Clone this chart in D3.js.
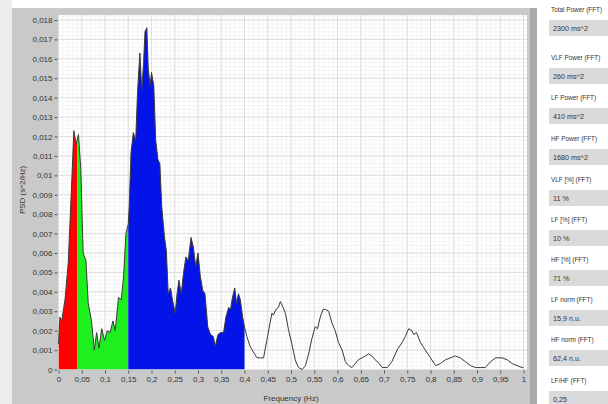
<!DOCTYPE html>
<html lang="en">
<head>
    <meta charset="UTF-8">
    <script src="https://cdn.jsdelivr.net/npm/d3@7"></script>
    <title>HRV FFT Spectrum</title>
    <style>
        body {
            margin: 0;
            background: #ffffff;
        }

        svg {
            display: block;
            font-family: "Liberation Sans", Arial, sans-serif;
        }

        .tick text {
            font-size: 8px;
            fill: #333;
        }

        .tick line {
            stroke: #555;
        }
    </style>
</head>
<body>
    <svg id="chart" width="608" height="404"></svg>

    <script>
        // spectrum (Hz, s^2/Hz)
        const freq = [
            0.000, 0.003, 0.007, 0.014, 0.021, 0.028, 0.033, 0.038, 0.043, 0.048,
            0.053, 0.059, 0.064, 0.071, 0.077, 0.082, 0.087, 0.093, 0.099, 0.105,
            0.111, 0.117, 0.122, 0.129, 0.135, 0.140, 0.145, 0.150, 0.152, 0.156,
            0.161, 0.166, 0.170, 0.175, 0.179, 0.183, 0.186, 0.190, 0.193, 0.197,
            0.200, 0.205, 0.209, 0.214, 0.218, 0.222, 0.228, 0.232, 0.236, 0.241,
            0.245, 0.251, 0.255, 0.259, 0.264, 0.269, 0.274, 0.279, 0.285, 0.290,
            0.295, 0.300, 0.305, 0.310, 0.315, 0.321, 0.327, 0.333, 0.337, 0.343,
            0.348, 0.355, 0.360, 0.366, 0.370, 0.374, 0.379, 0.383, 0.387, 0.391,
            0.396, 0.400, 0.405, 0.412, 0.419, 0.427, 0.434, 0.441, 0.448, 0.455,
            0.459, 0.462, 0.468, 0.473, 0.477, 0.483, 0.488, 0.495, 0.502, 0.509,
            0.516, 0.524, 0.531, 0.538, 0.545, 0.552, 0.557, 0.563, 0.569, 0.574,
            0.581, 0.588, 0.595, 0.602, 0.610, 0.617, 0.624, 0.631, 0.638, 0.645,
            0.653, 0.660, 0.667, 0.674, 0.681, 0.690, 0.696, 0.707, 0.717, 0.728,
            0.739, 0.746, 0.753, 0.760, 0.764, 0.770, 0.778, 0.789, 0.800, 0.811,
            0.821, 0.832, 0.843, 0.853, 0.864, 0.875, 0.886, 0.897, 0.907, 0.918,
            0.929, 0.940, 0.947, 0.954, 0.965, 0.976, 0.986, 0.997, 1.000
        ];
        const psd = [
            0.0013, 0.0027, 0.0025, 0.0036, 0.0055, 0.0094, 0.0123, 0.0116, 0.0121, 0.0103,
            0.0060, 0.0056, 0.0034, 0.0025, 0.0010, 0.0019, 0.0011, 0.0021, 0.0015, 0.0020,
            0.0019, 0.0025, 0.0020, 0.0037, 0.0036, 0.0048, 0.0070, 0.0075, 0.0084, 0.0112,
            0.0122, 0.0118, 0.0143, 0.0163, 0.0144, 0.0158, 0.0174, 0.0176, 0.0155, 0.0146,
            0.0153, 0.0146, 0.0118, 0.0108, 0.0106, 0.0084, 0.0068, 0.0061, 0.0039, 0.0042,
            0.0036, 0.0029, 0.0039, 0.0046, 0.0039, 0.0050, 0.0058, 0.0056, 0.0068, 0.0063,
            0.0053, 0.0060, 0.0048, 0.0041, 0.0039, 0.0022, 0.0018, 0.0017, 0.0012, 0.0018,
            0.0019, 0.0019, 0.0027, 0.0032, 0.0031, 0.0037, 0.0042, 0.0034, 0.0039, 0.0036,
            0.0027, 0.0022, 0.0017, 0.0012, 0.0009, 0.0006, 0.0006, 0.0006, 0.0015, 0.0024,
            0.0029, 0.0028, 0.0031, 0.0032, 0.0035, 0.0032, 0.0029, 0.0020, 0.0013, 0.0005,
            0.0001, 0.0000, 0.0002, 0.0008, 0.0016, 0.0022, 0.0021, 0.0027, 0.0031, 0.0031,
            0.0030, 0.0024, 0.0020, 0.0014, 0.0010, 0.0004, 0.0002, 0.0001, 0.0003, 0.0005,
            0.0006, 0.0007, 0.0008, 0.0007, 0.0005, 0.0003, 0.0001, 0.0001, 0.0004, 0.0010,
            0.0014, 0.0017, 0.0021, 0.0020, 0.0018, 0.0019, 0.0014, 0.0010, 0.0006, 0.0002,
            0.0003, 0.0005, 0.0006, 0.0007, 0.0006, 0.0004, 0.0002, 0.0001, 0.0001, 0.0001,
            0.0004, 0.0006, 0.0006, 0.0006, 0.0005, 0.0003, 0.0002, 0.0001, 0.0001
        ];

        // VLF / LF / HF band limits
        const bandEdges = [0, 0.04, 0.15, 0.4];
        const bandColors = ["#ff0000", "#1ef01e", "#0414e8"];

        const xTickValues = [0, 0.05, 0.1, 0.15, 0.2, 0.25, 0.3, 0.35, 0.4, 0.45, 0.5,
            0.55, 0.6, 0.65, 0.7, 0.75, 0.8, 0.85, 0.9, 0.95, 1];
        const yTickValues = [0, 0.001, 0.002, 0.003, 0.004, 0.005, 0.006, 0.007, 0.008, 0.009,
            0.01, 0.011, 0.012, 0.013, 0.014, 0.015, 0.016, 0.017, 0.018];

        const statLabels = ["Total Power (FFT)", "VLF Power (FFT)", "LF Power (FFT)", "HF Power (FFT)",
            "VLF [%] (FFT)", "LF [%] (FFT)", "HF [%] (FFT)", "LF norm (FFT)", "HF norm (FFT)", "LF/HF (FFT)"];
        const statValues = ["2300 ms^2", "260 ms^2", "410 ms^2", "1680 ms^2",
            "11 %", "10 %", "71 %", "15,9 n.u.", "62,4 n.u.", "0,25"];
        const statLabelY = [9, 57, 97, 138, 179, 219, 259, 299, 339, 380];

        const svg = d3.select("#chart");

        // frame / panel
        svg.append("rect").attr("width", 608).attr("height", 404).attr("fill", "#ffffff");
        svg.append("rect").attr("x", 0).attr("y", 0).attr("width", 12).attr("height", 404).attr("fill", "#ececec");
        svg.append("rect").attr("x", 12).attr("y", 8).attr("width", 525).attr("height", 396).attr("fill", "#c9c9c9");
        svg.append("rect").attr("x", 530).attr("y", 8).attr("width", 7).attr("height", 396).attr("fill", "#a9a9a9");

        const plot = { left: 58.5, right: 527, top: 15, bottom: 369.5 };
        svg.append("rect")
            .attr("x", plot.left).attr("y", plot.top)
            .attr("width", plot.right - plot.left).attr("height", plot.bottom - plot.top)
            .attr("fill", "#ffffff");

        const x = d3.scaleLinear().domain([0, 1]).range([58.5, 523.5]);
        const y = d3.scaleLinear().domain([0, 0.018]).range([369.5, 20]);

        // grid
        const grid = svg.append("g");
        grid.selectAll(".xminor")
            .data(d3.range(0, 1.001, 0.01))
            .enter().append("line")
            .attr("x1", d => x(d)).attr("x2", d => x(d))
            .attr("y1", plot.top).attr("y2", plot.bottom)
            .attr("stroke", "#f4f4f4").attr("stroke-width", 1);
        grid.selectAll(".yminor")
            .data(d3.range(0, 0.0184, 0.0002))
            .enter().append("line")
            .attr("x1", plot.left).attr("x2", plot.right)
            .attr("y1", d => y(d)).attr("y2", d => y(d))
            .attr("stroke", "#f4f4f4").attr("stroke-width", 1);
        grid.selectAll(".xmajor")
            .data(xTickValues)
            .enter().append("line")
            .attr("x1", d => x(d)).attr("x2", d => x(d))
            .attr("y1", plot.top).attr("y2", plot.bottom)
            .attr("stroke", "#dedede").attr("stroke-width", 1);
        grid.selectAll(".ymajor")
            .data(yTickValues)
            .enter().append("line")
            .attr("x1", plot.left).attr("x2", plot.right)
            .attr("y1", d => y(d)).attr("y2", d => y(d))
            .attr("stroke", "#dedede").attr("stroke-width", 1);

        const points = freq.map((f, i) => [f, psd[i]]);

        const area = d3.area()
            .x(d => x(d[0]))
            .y0(y(0))
            .y1(d => y(d[1]));

        const line = d3.line()
            .x(d => x(d[0]))
            .y(d => y(d[1]));

        // band fills, each clipped to its frequency range
        const defs = svg.append("defs");
        bandColors.forEach((color, i) => {
            defs.append("clipPath").attr("id", "band" + i)
                .append("rect")
                .attr("x", x(bandEdges[i])).attr("y", plot.top)
                .attr("width", x(bandEdges[i + 1]) - x(bandEdges[i]))
                .attr("height", plot.bottom - plot.top);

            svg.append("path")
                .datum(points)
                .attr("clip-path", `url(#band${i})`)
                .attr("d", area)
                .attr("fill", color);
        });

        svg.append("path")
            .datum(points)
            .attr("d", line)
            .attr("fill", "none")
            .attr("stroke", "#3a3a3a")
            .attr("stroke-width", 1);

        // axes
        const fmt = v => v === 0 ? "0" : String(+v.toFixed(3)).replace(".", ",");

        svg.append("g")
            .attr("transform", `translate(${plot.left - 1},0)`)
            .call(d3.axisLeft(y).tickValues(yTickValues).tickFormat(fmt).tickSize(3).tickPadding(2))
            .call(g => g.select(".domain").remove());

        svg.append("g")
            .attr("transform", `translate(0,${plot.bottom + 1})`)
            .call(d3.axisBottom(x).tickValues(xTickValues).tickFormat(fmt).tickSize(3).tickPadding(3))
            .call(g => g.select(".domain").remove());

        svg.append("text")
            .attr("transform", "translate(25,190) rotate(-90)")
            .attr("text-anchor", "middle")
            .attr("font-size", 8)
            .attr("fill", "#333")
            .text("PSD (s^2/Hz)");

        svg.append("text")
            .attr("x", x(0.5))
            .attr("y", 401)
            .attr("text-anchor", "middle")
            .attr("font-size", 8)
            .attr("fill", "#333")
            .text("Frequency (Hz)");

        // results panel on the right
        const stats = svg.append("g");
        statLabels.forEach((label, i) => {
            const ly = statLabelY[i];
            // labels drawn a bit narrower so the long ones stay inside the window
            stats.append("text")
                .attr("transform", `translate(551,${ly + 3}) scale(0.8,1)`)
                .attr("font-size", 8)
                .attr("fill", "#333")
                .text(label);
            stats.append("rect")
                .attr("x", 549).attr("y", ly + 11)
                .attr("width", 70).attr("height", 16)
                .attr("fill", "#dadada");
            stats.append("text")
                .attr("transform", `translate(553,${ly + 22}) scale(0.9,1)`)
                .attr("font-size", 8)
                .attr("fill", "#333")
                .text(statValues[i]);
        });
    </script>
</body>
</html>
